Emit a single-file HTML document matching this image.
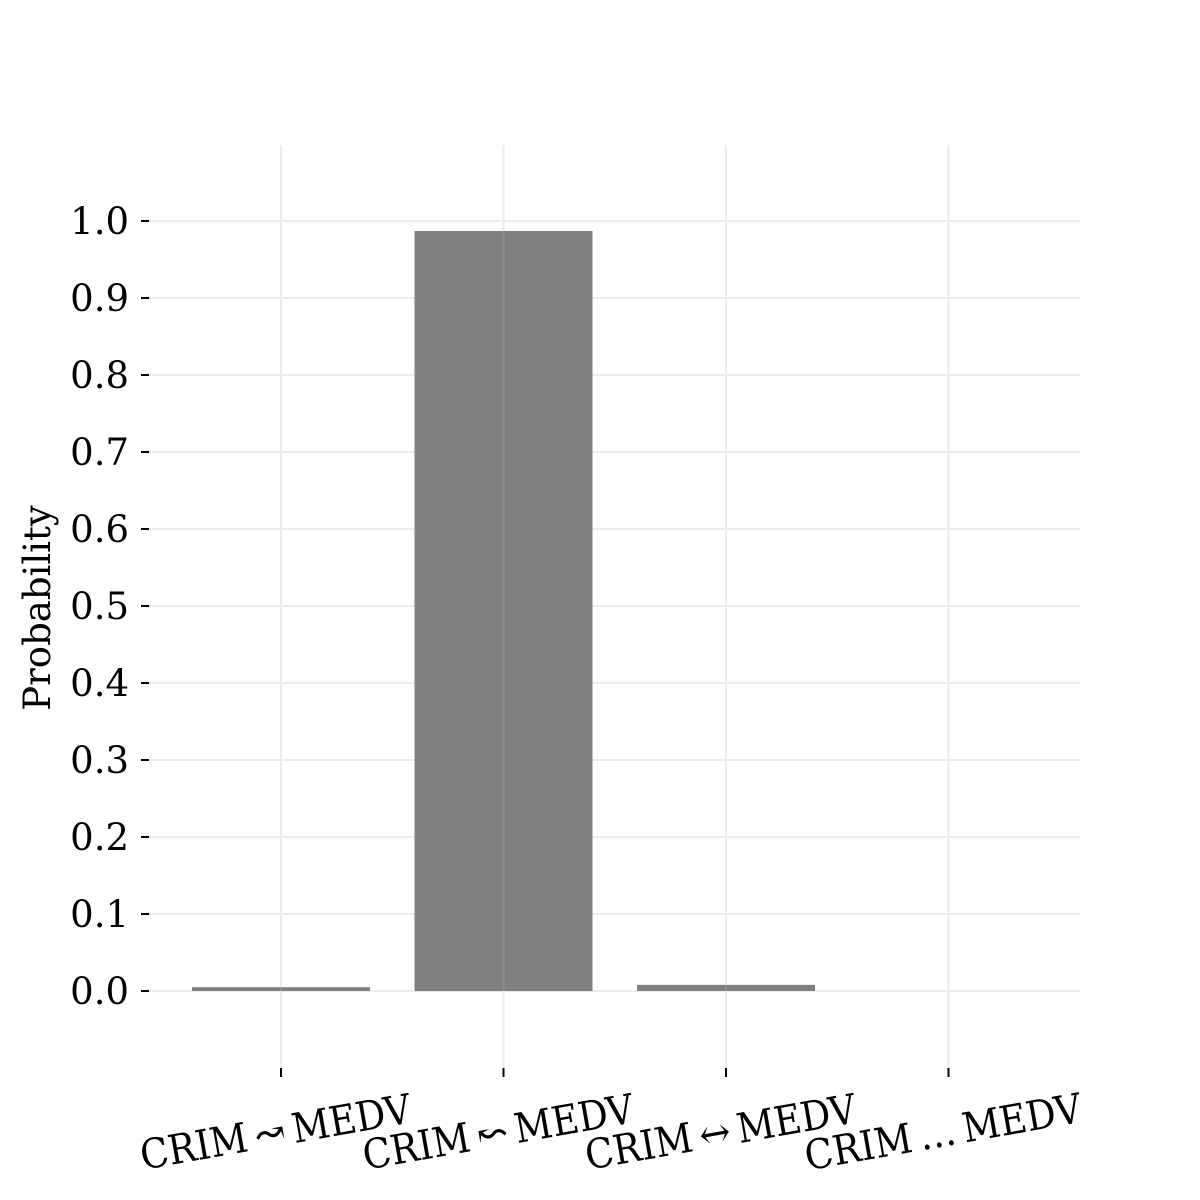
<!DOCTYPE html>
<html><head><meta charset="utf-8"><style>body{margin:0;background:#fff}svg{display:block}text{font-family:"DejaVu Serif","Liberation Serif",serif;fill:#000}.xl{font-family:"DejaVu Serif Condensed","DejaVu Serif","Liberation Serif",serif;font-stretch:condensed}</style></head>
<body>
<svg id="chart" width="1200" height="1200" viewBox="0 0 1200 1200">
<g id="grid"></g><g id="bars"></g><g id="axes"></g>
</svg>
<script>
const categories = ["CRIM\u2009\u219D\u2009MEDV", "CRIM\u2009\u219C\u2009MEDV", "CRIM\u2009\u2194\u2009MEDV", "CRIM\u2009\u2026\u2009MEDV"];
const values = [0.005, 0.987, 0.008, 0.0];
const yTicks = [0.0,0.1,0.2,0.3,0.4,0.5,0.6,0.7,0.8,0.9,1.0];
const yTickLabels = ["0.0","0.1","0.2","0.3","0.4","0.5","0.6","0.7","0.8","0.9","1.0"];
const NS="http://www.w3.org/2000/svg";
const y0=991, yUnit=770, x0=281, xStep=222.5, bw=178;
const L=143,R=1080,T=145,B=1068;
function y(v){return y0-v*yUnit;}
function x(i){return x0+i*xStep;}
function mk(tag,attrs,parent){const e=document.createElementNS(NS,tag);for(const k in attrs)e.setAttribute(k,attrs[k]);parent.appendChild(e);return e;}
const bars=document.getElementById('bars'),grid=document.getElementById('grid'),axes=document.getElementById('axes');
values.forEach((v,i)=>{
  const r=mk('rect',{x:x(i)-bw/2,y:y(v),width:bw,height:Math.max(0,y0-y(v)),fill:'#808080'},bars);
  
  
  const g=mk('line',{x1:x(i),x2:x(i),y1:y(v),y2:y0,stroke:'#ffffff','stroke-opacity':0.12,'stroke-width':2},bars);
  
  
});
yTicks.forEach((t,i)=>{
  const g=mk('line',{x1:L,x2:R,y1:y(t),y2:y(t),stroke:'#ebebeb','stroke-width':2},grid);
  
  
  const tk=mk('line',{x1:141,x2:149,y1:y(t),y2:y(t),stroke:'#000','stroke-width':2},axes);
  
  
  const lb=mk('text',{x:129,y:y(t)+13,'text-anchor':'end','font-size':37},axes);
  lb.textContent=yTickLabels[i];
  
  
});
categories.forEach((c,i)=>{
  const g=mk('line',{x1:x(i),x2:x(i),y1:T,y2:B,stroke:'#ebebeb','stroke-width':2},grid);
  
  
  const tk=mk('line',{x1:x(i),x2:x(i),y1:1068,y2:1077,stroke:'#000','stroke-width':2},axes);
  
  
  const lb=mk('text',{x:x(i)-3,y:1146,'text-anchor':'middle','font-size':41,'class':'xl',transform:`rotate(-10 ${x(i)-3} 1146)`},axes);
  lb.textContent=c;
  
  
});
const yt=mk('text',{x:50,y:608,'text-anchor':'middle','font-size':37,transform:'rotate(-90 50 608)'},axes);
yt.textContent='Probability';


</script>
</body></html>
